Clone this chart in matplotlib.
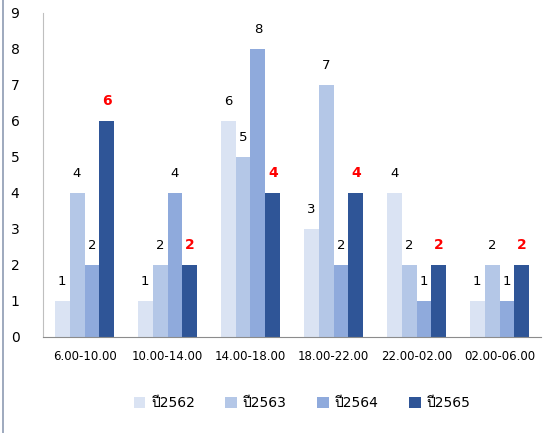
import matplotlib as mpl
mpl.use('Agg')
import matplotlib.pyplot as plt
from matplotlib import font_manager
from matplotlib.ft2font import FT2Font
from matplotlib.lines import Line2D
import numpy as np

periods = ['6.00-10.00', '10.00-14.00', '14.00-18.00', '18.00-22.00', '22.00-02.00', '02.00-06.00']
years = ['ปี2562', 'ปี2563', 'ปี2564', 'ปี2565']
y2562 = [1, 1, 6, 3, 4, 1]
y2563 = [4, 2, 5, 7, 2, 2]
y2564 = [2, 4, 8, 2, 1, 1]
y2565 = [6, 2, 4, 4, 2, 2]
colors = ['#dae3f3', '#b4c7e7', '#8faadc', '#2f5597']

# look for a font that can draw Thai
thai_font = None
for f in font_manager.fontManager.ttflist:
    try:
        if 0x0E1B in FT2Font(f.fname).get_charmap():
            thai_font = f.name
            break
    except Exception:
        pass
fams = ['DejaVu Sans'] + ([thai_font] if thai_font else [])
plt.rcParams['font.family'] = fams

fig = plt.figure(figsize=(5.52, 4.33), dpi=100)
ax = fig.add_axes([43/552, 1-337/433, 498/552, 324/433])

x = np.arange(len(periods))
w = 0.18
series = [y2562, y2563, y2564, y2565]
for i, vals in enumerate(series):
    pos = x + (i - 1.5) * w
    ax.bar(pos, vals, w, color=colors[i], label=years[i])
    for p, v in zip(pos, vals):
        if i == 3:
            ax.text(p, v + 0.35, str(v), ha='center', va='bottom', color='#ff0000',
                    fontsize=10, fontweight='bold')
        else:
            ax.text(p, v + 0.35, str(v), ha='center', va='bottom', color='black', fontsize=9.5)

ax.set_xlim(-0.5, len(periods) - 0.5)
ax.set_ylim(0, 9)
ax.set_yticks(range(10))
ax.set_xticks(x)
ax.set_xticklabels(periods, fontsize=8.5)
ax.tick_params(axis='y', labelsize=10, length=0, pad=17)
ax.tick_params(axis='x', length=0, pad=9)
for s in ['top', 'right']:
    ax.spines[s].set_visible(False)
ax.spines['left'].set_color('#bfbfbf')
ax.spines['bottom'].set_color('#8c8c8c')

ax.legend(loc='upper center', bbox_to_anchor=(0.52, -0.145), ncol=4, frameon=False,
          fontsize=10, handlelength=0.85, handleheight=0.85, handletextpad=0.4, columnspacing=2.2)

fig.add_artist(Line2D([3/552, 3/552], [0, 1], color='#8e9bb3', lw=1.2))

fig.savefig('out.png', dpi=100)
